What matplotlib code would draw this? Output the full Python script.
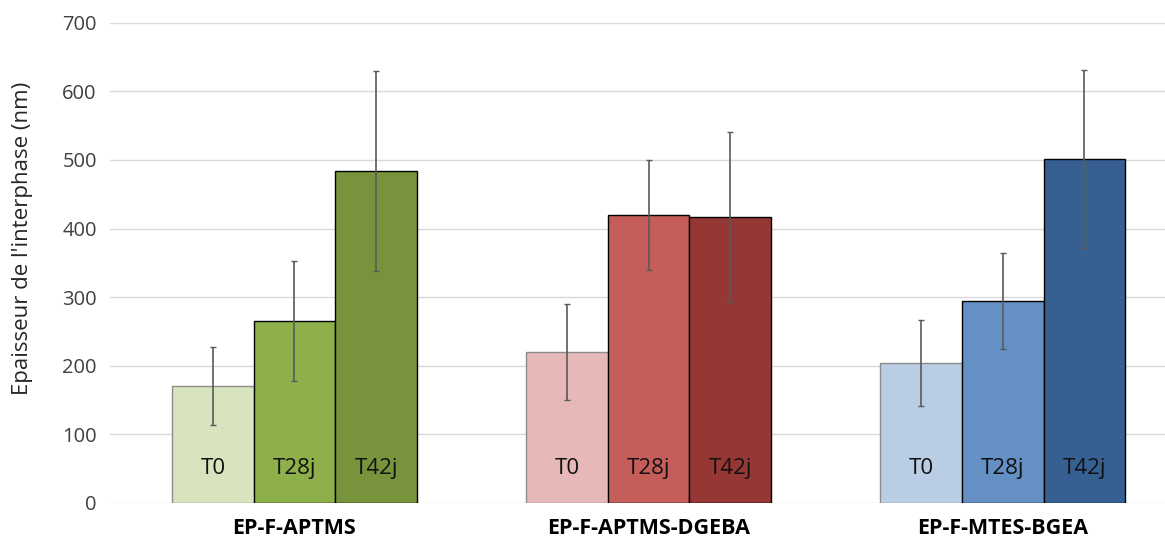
import matplotlib
matplotlib.use("Agg")
import matplotlib.pyplot as plt
import numpy as np

groups = ["EP-F-APTMS", "EP-F-APTMS-DGEBA", "EP-F-MTES-BGEA"]
times = ["T0", "T28j", "T42j"]
values = {
    "T0":   [171, 220, 204],
    "T28j": [265, 420, 295],
    "T42j": [484, 417, 501],
}
errors = {
    "T0":   [57, 70, 63],
    "T28j": [87, 80, 70],
    "T42j": [146, 124, 130],
}
colors = [
    ["#D7E4BD", "#8DB04B", "#77933C"],
    ["#E6B9B8", "#C55E5B", "#953735"],
    ["#B9CDE5", "#6490C4", "#376092"],
]
edges = ["#8C8C8C", "#000000", "#000000"]
yticks = [0, 100, 200, 300, 400, 500, 600, 700]

plt.rcParams['font.family'] = ['Open Sans', 'DejaVu Sans']

fig = plt.figure(figsize=(11.65, 5.39), dpi=100)
ax = fig.add_axes([0.0944, 0.0668, 0.9056, 0.891])

x = np.arange(len(groups))
w = 0.2305
for j, t in enumerate(times):
    xs = x + (j - 1) * w
    for i in range(len(groups)):
        ax.bar(xs[i], values[t][i], width=w, color=colors[i][j],
               edgecolor=edges[j], linewidth=1.0, zorder=2)
        ax.errorbar(xs[i], values[t][i], yerr=errors[t][i], fmt='none',
                    ecolor="#5A5A5A", elinewidth=1.2, capsize=2.5,
                    capthick=1.0, zorder=3)
        ax.text(xs[i], 50, t, ha='center', va='center', fontsize=16,
                color="#111111", zorder=4)

ax.set_xlim(-0.521, 2.458)
ax.set_ylim(0, 700)
ax.set_yticks(yticks)
ax.set_yticklabels([str(v) for v in yticks], fontsize=14.5, color="#404040")
ax.set_xticks(x)
ax.set_xticklabels(groups, fontsize=15.5, fontweight='bold', color="#000000")
ax.tick_params(axis='both', length=0)
ax.tick_params(axis='y', pad=9.5)
ax.tick_params(axis='x', pad=11)
ax.yaxis.grid(True, color="#D9D9D9", linewidth=1.0, zorder=0)
ax.set_axisbelow(True)
for s in ax.spines.values():
    s.set_visible(False)
ax.set_ylabel("Epaisseur de l'interphase (nm)", fontsize=16, color="#262626")
ax.yaxis.set_label_coords(-0.073, 0.551)

fig.savefig("out.png", dpi=100)
